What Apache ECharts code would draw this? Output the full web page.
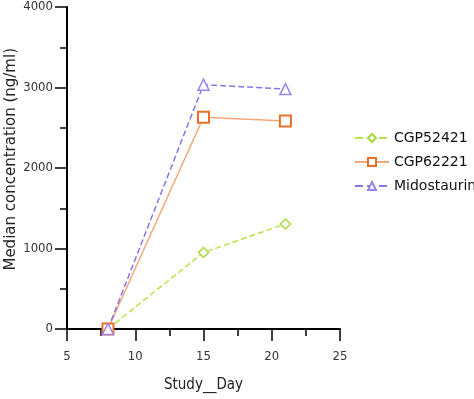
<!DOCTYPE html>
<html><head><meta charset="utf-8">
<script src="https://cdn.jsdelivr.net/npm/echarts@6/dist/echarts.min.js"></script>
<style>html,body{margin:0;padding:0;background:#fff}#c{width:474px;height:399px}</style>
</head><body><div id="c"></div>
<script>
const days = [8, 15, 21];
const cgp52421 = [0, 950, 1305];
const cgp62221 = [0, 2630, 2585];
const midostaurin = [0, 3035, 2980];
const seriesNames = ['CGP52421', 'CGP62221', 'Midostaurin'];
const xTitle = 'Study__Day';
const yTitle = 'Median concentration (ng/ml)';

const cond = '"DejaVu Sans Condensed", "DejaVu Sans", sans-serif';
const wide = '"DejaVu Sans", sans-serif';
const chart = echarts.init(document.getElementById('c'));
function pts(v){ return days.map((d,i)=>[d, v[i]]); }
chart.setOption({
  animation: false,
  textStyle: {fontFamily: cond},
  grid: {left: 67, top: 7, width: 273, height: 322, containLabel: false},
  legend: {
    data: seriesNames, orient: 'vertical', left: 349, top: 126,
    itemWidth: 34, itemHeight: 10, itemGap: 10,
    textStyle: {fontSize: 14, color: '#111', fontFamily: wide}
  },
  xAxis: {
    type: 'value', min: 5, max: 25, interval: 5,
    name: xTitle, nameLocation: 'middle', nameGap: 49,
    nameTextStyle: {fontSize: 15, color: '#222', fontFamily: cond},
    axisLine: {onZero: false, lineStyle: {color: '#000', width: 2}},
    axisTick: {length: 12, lineStyle: {color: '#000', width: 1.5}},
    minorTick: {show: true, splitNumber: 2, length: 7, lineStyle: {color: '#000', width: 1.5}},
    axisLabel: {margin: 21, fontSize: 13, color: '#333', fontFamily: cond},
    splitLine: {show: false}
  },
  yAxis: {
    type: 'value', min: 0, max: 4000, interval: 1000,
    axisLine: {show: true, onZero: false, lineStyle: {color: '#000', width: 2}},
    axisTick: {show: true, length: 12, lineStyle: {color: '#000', width: 1.5}},
    minorTick: {show: true, splitNumber: 2, length: 7, lineStyle: {color: '#000', width: 1.5}},
    axisLabel: {margin: 14, fontSize: 13, color: '#333', fontFamily: cond,
      formatter: function(v){ return String(v); }},
    splitLine: {show: false}
  },
  graphic: [{
    type: 'text', left: 4, top: 48,
    style: {text: yTitle, fill: '#222', font: '15px ' + wide},
    rotation: Math.PI/2
  }],
  series: [
    {name: seriesNames[0], type: 'line', data: pts(cgp52421),
     symbol: 'diamond', symbolSize: 10,
     lineStyle: {color: '#b5e34a', width: 1.5, type: 'dashed'},
     itemStyle: {color: '#fff', borderColor: '#a8dc3c', borderWidth: 1.5}},
    {name: seriesNames[1], type: 'line', data: pts(cgp62221),
     symbol: 'rect', symbolSize: 11,
     lineStyle: {color: '#f2a77a', width: 1.5, type: 'solid'},
     itemStyle: {color: '#fff', borderColor: '#e8702a', borderWidth: 2}},
    {name: seriesNames[2], type: 'line', data: pts(midostaurin),
     symbol: 'triangle', symbolSize: 11,
     lineStyle: {color: '#8a74e6', width: 1.5, type: 'dashed'},
     itemStyle: {color: '#fff', borderColor: '#9a84ee', borderWidth: 1.5}}
  ]
});
</script></body></html>
